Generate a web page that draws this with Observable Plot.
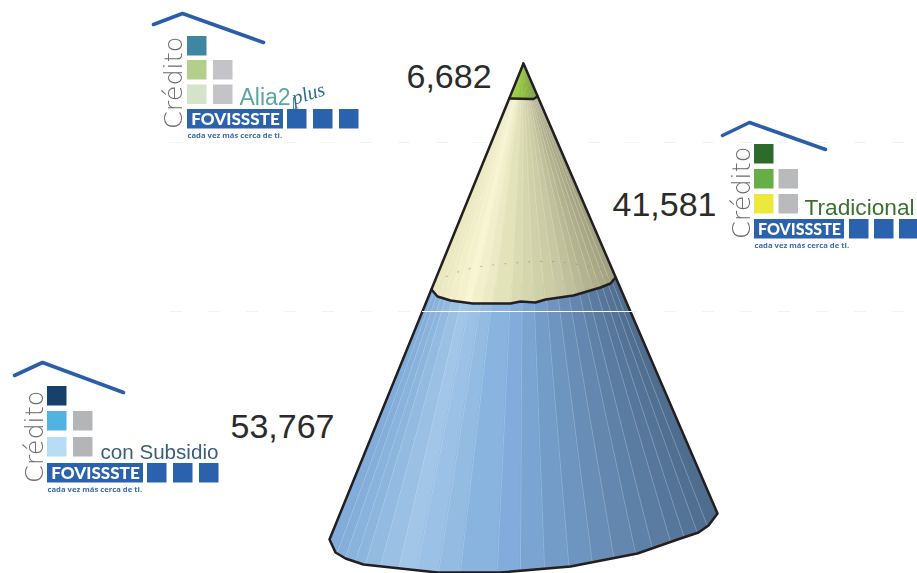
<!DOCTYPE html>
<html><head><meta charset="utf-8">
<style>html,body{margin:0;padding:0;background:#fff}svg{display:block}</style>
<script src="https://cdn.jsdelivr.net/npm/d3@7"></script>
<script src="https://cdn.jsdelivr.net/npm/@observablehq/plot@0.6"></script>
</head><body><div id="chart"></div>
<script>
// values
const credits = ["Alia2plus", "Tradicional", "con Subsidio"];
const creditValues = [6682, 41581, 53767];

// cone outline
const apex = [523, 63];
const greenFloor = [[509,98],[533,98.5],[537,96]];
const yellowFloor = [[431,289],[437,296],[450,300],[472,303],[510,303],[520,301],[535,302],[545,299],[573,295],[600,287],[610,283],[615,277]];
const blueFloor = [[329,539],[335,552],[345,558],[363,564],[400,568],[437,572],[500,572],[570,566],[637,553],[680,538],[698,532],[708,525],[717,513]];
const blueCeil = [[431,289],[615,277]];
const facetEdges = [0,.019,.04,.066,.092,.131,.178,.225,.281,.337,.432,.492,.554,.617,.677,.733,.789,.832,.879,.914,.948,.974,1];

const blueShade = d3.scaleLinear().domain([0,.2,.45,.62,.82,1]).range(["#80abd8","#a2c6e8","#82aedd","#7098c4","#5d80a6","#4d6c8d"]);
const yellowShade = d3.scaleLinear().domain([0,.2,.45,.7,1]).range(["#e8e6bc","#f8f5d2","#dcdcb2","#c8c8a2","#a0a080"]);
const greenShade = d3.scaleLinear().domain([0,.5,1]).range(["#9ac93e","#8cbc3a","#6c9234"]);

function at(curve, u) {
  if (curve.length === 1) return curve[0];
  const x = curve[0][0] + u * (curve[curve.length-1][0] - curve[0][0]);
  const y = d3.scaleLinear().domain(curve.map(p => p[0])).range(curve.map(p => p[1]))(x);
  return [x, y];
}
function facets(top, bottom, shade, tag) {
  const rows = [];
  d3.pairs(facetEdges).forEach(([a, b], i) => {
    const color = shade((a + b) / 2);
    const [ta, tb, ba, bb] = [at(top,a), at(top,b), at(bottom,a), at(bottom,b)];
    rows.push({id: tag+i, color, x1: ta[0], y1: ta[1], x2: tb[0], y2: tb[1]});
    rows.push({id: tag+i, color, x1: ba[0], y1: ba[1], x2: bb[0], y2: bb[1]});
  });
  return rows;
}
function seams(top, bottom) {
  return facetEdges.slice(1,-1).map(u => {
    const t = at(top,u), b = at(bottom,u);
    return {x1:t[0], y1:t[1], x2:b[0], y2:b[1]};
  });
}
const coneLayers = [
  {top: blueCeil, bottom: blueFloor, shade: blueShade, tag:"b", seam:"#d4e4f4", seamOpacity:.55},
  {top: greenFloor, bottom: yellowFloor, shade: yellowShade, tag:"y", seam:"#f6f5e6", seamOpacity:.4},
  {top: [apex], bottom: greenFloor, shade: greenShade, tag:"g", seam:"#a9cf6a", seamOpacity:.4}
];
const coneMarks = coneLayers.flatMap(l => [
  Plot.area(facets(l.top,l.bottom,l.shade,l.tag), {x1:"x1",y1:"y1",x2:"x2",y2:"y2",z:"id",fill:"color",stroke:"color",strokeWidth:.4}),
  Plot.link(seams(l.top,l.bottom), {x1:"x1",y1:"y1",x2:"x2",y2:"y2",stroke:l.seam,strokeWidth:.6,strokeOpacity:l.seamOpacity})
]);

// logos
function logo(o) {
  const sq = 19.5, rows = o.rows, col1 = o.x, col2 = o.x + o.pitchX;
  const squares = [
    {x:col1,y:rows[0],c:o.colors[0]},
    {x:col1,y:rows[1],c:o.colors[1]},
    {x:col2,y:rows[1],c:o.grey},
    {x:col1,y:rows[2],c:o.colors[2]},
    {x:col2,y:rows[2],c:o.grey},
    ...o.tail.map(x => ({x,y:rows[3],c:"#2b62ae"}))
  ];
  const soft = {imageFilter:"blur(0.5px)"};
  return [
    Plot.line(o.roof, {x:d=>d[0],y:d=>d[1],stroke:"#2a5ea8",strokeWidth:3.6,strokeLinecap:"round",strokeLinejoin:"round",...soft}),
    Plot.rect(squares, {x1:"x",y1:"y",x2:d=>Math.min(d.x+sq,917),y2:d=>d.y+sq,fill:"c",...soft}),
    Plot.rect([o], {x1:d=>d.x,x2:d=>d.x+d.barW,y1:d=>d.rows[3],y2:d=>d.rows[3]+sq,fill:"#2b62ae",...soft}),
    Plot.text(["FOVISSSTE"], {x:o.x+o.barW/2,y:o.rows[3]+sq/2+.5,text:d=>d,fill:"#fff",fontWeight:900,fontSize:o.barW*.178,fontFamily:"Lato",textAnchor:"middle",...soft}),
    Plot.text(["cada vez más cerca de ti."], {x:o.x,y:o.rows[3]+sq+6.5,text:d=>d,fill:"#3a6db0",fontWeight:"bold",fontSize:7.7,fontFamily:"Open Sans",textAnchor:"start",...soft}),
    Plot.text(["Crédito"], {x:o.cx,y:o.rows[3]+sq,text:d=>d,rotate:-90,fill:"#6a6b6e",fontSize:25.5,fontFamily:"DejaVu Sans",fontWeight:200,textAnchor:"start",lineAnchor:"middle",...soft})
  ];
}
const logoSpecs = [
  {x:187,cx:173,rows:[36,60,84.5,109],pitchX:26,barW:96,tail:[287,313,339],colors:["#3f86a3","#b2d08a","#d3e4c8"],grey:"#c3c3c8",
   roof:[[153,24],[182,13],[263,42]]},
  {x:754,cx:741,rows:[144,169,194,219],pitchX:24.5,barW:90,tail:[849,874,899],colors:["#2e6a2c","#66ae45","#ece83e"],grey:"#b9babc",
   roof:[[722,135],[749,122],[825,149]]},
  {x:47,cx:34,rows:[386,411,437,463],pitchX:26,barW:96,tail:[147,173,199],colors:["#17406b","#52b3e0","#b7dcf3"],grey:"#b4b5b7",
   roof:[[14,375],[42,362],[123,392]]}
];
const logoCaptions = [
  {t:"Alia2", x:239, y:104, size:23, fill:"#5aa7a0"},
  {t:"Tradicional", x:804, y:214, size:22.7, fill:"#3a7030"},
  {t:"con Subsidio", x:100, y:458, size:20.6, fill:"#3b5e7e"}
];
const valueLabels = [
  {v:creditValues[0], x:406, y:77},
  {v:creditValues[1], x:612, y:205},
  {v:creditValues[2], x:230, y:427}
];
const fmt = d3.format(",");

const plot = Plot.plot({
  width:917, height:573, margin:0,
  style:{background:"#fff", fontFamily:"Liberation Sans"},
  x:{domain:[0,917], range:[0,917], axis:null},
  y:{domain:[0,573], range:[0,573], axis:null},
  color:{type:"identity"},
  marks:[
    Plot.ruleY([142,311], {x1:170,x2:917,stroke:"#dfe6e8",strokeWidth:1,strokeDasharray:"12 26",strokeOpacity:.45}),
    Plot.line([...blueCeil,...blueFloor.slice().reverse()], {x:d=>d[0],y:d=>d[1],fill:"#5d80a6",stroke:"none"}),
    ...coneMarks,
    // dotted arc on the yellow section
    Plot.line([[435,281],[470,268],[520,262],[565,262],[612,272]], {x:d=>d[0],y:d=>d[1],curve:"natural",stroke:"#8d8c6c",strokeWidth:.7,strokeDasharray:"1 11"}),
    // outlines
    Plot.line([apex,...blueFloor,apex], {x:d=>d[0],y:d=>d[1],stroke:"#231f20",strokeWidth:2.5,strokeLinejoin:"round"}),
    Plot.line(yellowFloor, {x:d=>d[0],y:d=>d[1],stroke:"#231f20",strokeWidth:2.5,strokeLinejoin:"round"}),
    Plot.line(greenFloor, {x:d=>d[0],y:d=>d[1],stroke:"#231f20",strokeWidth:2.5,strokeLinejoin:"round"}),
    Plot.ruleY([311], {x1:422,x2:632,stroke:"#fff",strokeWidth:1.2}),
    // values
    Plot.text(valueLabels, {x:"x",y:"y",text:d=>fmt(d.v),fontSize:34,fill:"#2b2b2b",textAnchor:"start",fontFamily:"Liberation Sans"}),
    // logos
    ...logoSpecs.flatMap(logo),
    Plot.text(logoCaptions, {x:"x",y:"y",text:"t",fontSize:d=>d.size,fill:"fill",textAnchor:"start",lineAnchor:"bottom",fontFamily:"Liberation Sans",imageFilter:"blur(0.4px)"}),
    Plot.text([credits[0].slice(5)], {x:292,y:98,text:d=>d,rotate:-17,fontSize:20,fill:"#2a6f8a",fontStyle:"italic",fontFamily:"Liberation Serif",textAnchor:"start",imageFilter:"blur(0.4px)"}),
    Plot.ruleX([293], {y1:97,y2:109,stroke:"#4f8f9a",strokeWidth:1})
  ]
});
document.getElementById("chart").append(plot);
</script></body></html>
